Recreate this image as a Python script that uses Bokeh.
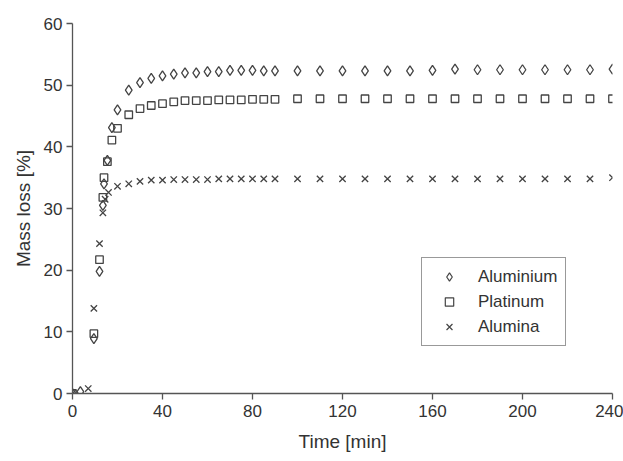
from bokeh.plotting import figure
from bokeh.models import Range1d, Legend, LegendItem, FixedTicker
from bokeh.embed import file_html
from bokeh.resources import INLINE

late_t = [25, 30, 35, 40, 45, 50, 55, 60, 65, 70, 75, 80, 85, 90,
          100, 110, 120, 130, 140, 150, 160, 170, 180, 190, 200, 210, 220, 230, 240]

alu_t = [0, 3.5, 9.5, 12, 13.5, 14, 15.5, 17.5, 20] + late_t
alu_y = [0, 0.3, 8.9, 19.8, 30.5, 34.0, 37.8, 43.1, 46.0,
         49.2, 50.4, 51.1, 51.5, 51.8, 52.0, 52.0, 52.2, 52.2, 52.4, 52.4, 52.4, 52.3, 52.3,
         52.3, 52.3, 52.3, 52.3, 52.3, 52.3, 52.4, 52.6, 52.5, 52.5, 52.5, 52.5, 52.5, 52.5, 52.6]

pt_t = [0, 9.5, 12, 13.5, 14, 15.5, 17.5, 20] + late_t
pt_y = [0, 9.7, 21.7, 31.8, 35.0, 37.6, 41.1, 43.0,
        45.2, 46.2, 46.7, 47.0, 47.3, 47.5, 47.5, 47.5, 47.6, 47.6, 47.6, 47.7, 47.7, 47.7,
        47.8, 47.8, 47.8, 47.8, 47.8, 47.8, 47.8, 47.8, 47.8, 47.8, 47.8, 47.8, 47.8, 47.8, 47.8]

aln_t = [0, 7, 9.5, 12, 13.5, 14.5, 16, 20] + late_t
aln_y = [0, 0.8, 13.8, 24.3, 29.3, 31.5, 32.6, 33.6,
         34.0, 34.4, 34.6, 34.6, 34.7, 34.7, 34.7, 34.7, 34.8, 34.8, 34.8, 34.8, 34.8, 34.8,
         34.8, 34.8, 34.8, 34.8, 34.8, 34.8, 34.8, 34.8, 34.8, 34.8, 34.8, 34.8, 34.8, 34.8, 35.0]

x_ticks = [0, 40, 80, 120, 160, 200, 240]
y_ticks = [0, 10, 20, 30, 40, 50, 60]
series_names = ["Aluminium", "Platinum", "Alumina"]

FONT = "Liberation Sans"
TXT = "#333333"
MK = "#444444"

p = figure(width=623, height=461, output_backend="svg", toolbar_location=None,
           x_range=Range1d(0, 240), y_range=Range1d(0, 60),
           min_border_left=72, min_border_right=11, min_border_top=23, min_border_bottom=68)
p.outline_line_color = None
p.grid.visible = False
p.background_fill_color = "white"

p.scatter(alu_t, alu_y, marker="diamond", size=10, fill_color=None, line_color=MK, line_width=1.3)
p.scatter(pt_t, pt_y, marker="square", size=7.5, fill_color=None, line_color=MK, line_width=1.3)
p.scatter(aln_t, aln_y, marker="x", size=9, line_color=MK, line_width=1.3)

# smaller legend glyphs (proxy renderers placed outside the visible range)
off = [-1000]
l1 = p.scatter(off, off, marker="diamond", size=7, fill_color=None, line_color=MK, line_width=1.2)
l2 = p.scatter(off, off, marker="square", size=6, fill_color=None, line_color=MK, line_width=1.2)
l3 = p.scatter(off, off, marker="x", size=6, line_color=MK, line_width=1.2)

for ax in (p.xaxis[0], p.yaxis[0]):
    ax.axis_line_color = "#555555"
    ax.axis_line_width = 1.3
    ax.major_tick_line_color = "#555555"
    ax.major_tick_line_width = 1.3
    ax.major_tick_in = 0
    ax.major_tick_out = 6
    ax.minor_tick_line_color = None
    ax.major_label_text_font = FONT
    ax.major_label_text_font_size = "17px"
    ax.major_label_text_color = TXT
    ax.axis_label_text_font = FONT
    ax.axis_label_text_font_size = "19px"
    ax.axis_label_text_font_style = "normal"
    ax.axis_label_text_color = TXT

p.xaxis.ticker = FixedTicker(ticks=x_ticks)
p.yaxis.ticker = FixedTicker(ticks=y_ticks)
p.xaxis.axis_label = "Time [min]"
p.yaxis.axis_label = "Mass loss [%]"
p.xaxis.major_label_standoff = 5
p.yaxis.major_label_standoff = 4
p.xaxis.axis_label_standoff = 11
p.yaxis.axis_label_standoff = 7

legend = Legend(items=[LegendItem(label=series_names[0], renderers=[l1]),
                       LegendItem(label=series_names[1], renderers=[l2]),
                       LegendItem(label=series_names[2], renderers=[l3])],
                location=(349, 47))
legend.label_text_font = FONT
legend.label_text_font_size = "17px"
legend.label_text_color = TXT
legend.border_line_color = "#333333"
legend.border_line_width = 1
legend.background_fill_color = "white"
legend.background_fill_alpha = 1
legend.padding = 8
legend.spacing = 4
legend.label_height = 21
legend.glyph_height = 21
legend.glyph_width = 38
legend.label_standoff = 10
legend.margin = 0
p.add_layout(legend, "center")

open("out.html", "w").write(file_html(p, INLINE))
